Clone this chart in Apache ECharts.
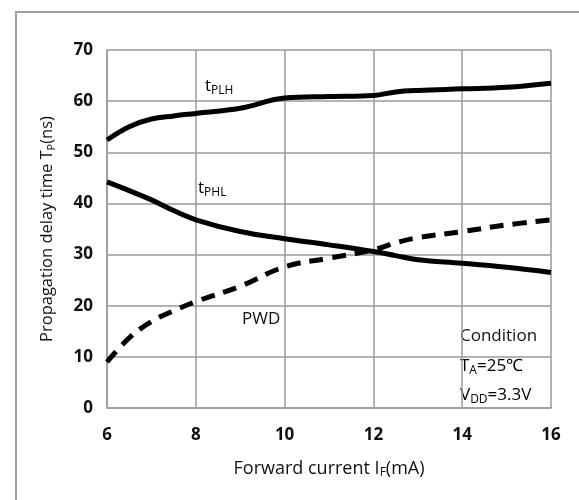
<!DOCTYPE html>
<html>
<head>
<meta charset="utf-8">
<script src="https://cdn.jsdelivr.net/npm/echarts@6/dist/echarts.min.js"></script>
<style>
  html, body { margin: 0; padding: 0; background: #fff; }
  #main { width: 579px; height: 500px; }
</style>
</head>
<body>
<div id="main"></div>
<script>
// forward current (mA)
var current = [6, 6.5, 7, 7.5, 8, 9, 10, 11, 12, 12.5, 13, 14, 15, 16];
// propagation delay (ns)
var tPLH = [52.4, 55.0, 56.5, 57.1, 57.6, 58.6, 60.6, 60.9, 61.1, 61.8, 62.1, 62.4, 62.7, 63.5];
var tPHL = [44.2, 42.5, 40.7, 38.6, 36.8, 34.5, 33.1, 31.9, 30.6, 29.8, 29.0, 28.3, 27.5, 26.5];
var pwd = [9.0, 13.7, 16.9, 19.0, 20.8, 23.8, 27.6, 29.3, 30.9, 32.3, 33.3, 34.5, 35.8, 36.8];

function pairs(ys) {
  return current.map(function (x, i) { return [x, ys[i]]; });
}

var chart = echarts.init(document.getElementById('main'));

var font = '"Open Sans", "Liberation Sans", sans-serif';
var gridColor = '#9a9a9a';

// rich styles for text with subscripts
function subRich(size) {
  return {
    m: { fontSize: size, fontFamily: font, color: '#111' },
    s: { fontSize: Math.round(size * 0.68), fontFamily: font, color: '#111', padding: [8, 0, 0, 0] }
  };
}

function lineSeries(name, ys, dashed) {
  return {
    name: name,
    type: 'line',
    smooth: 0.4,
    symbol: 'none',
    data: pairs(ys),
    lineStyle: {
      color: '#000',
      width: 5,
      type: dashed ? [14, 9] : 'solid',
      cap: 'butt'
    }
  };
}

var option = {
  backgroundColor: '#fff',
  animation: false,
  grid: { left: 107, right: 28, top: 50, bottom: 92 },
  xAxis: {
    type: 'value',
    min: 6,
    max: 16,
    interval: 2,
    name: '{m|Forward current I}{s|F}{m|(mA)}',
    nameLocation: 'middle',
    nameGap: 51,
    nameTextStyle: { rich: subRich(18) },
    axisLine: { lineStyle: { color: gridColor, width: 1.5 } },
    axisTick: { show: false },
    axisLabel: { fontSize: 17, fontWeight: 700, color: '#111', fontFamily: font, margin: 19 },
    splitLine: { lineStyle: { color: gridColor, width: 1.5 } }
  },
  yAxis: {
    type: 'value',
    min: 0,
    max: 70,
    interval: 10,
    name: '{m|Propagation delay time T}{s|P}{m|(ns)}',
    nameLocation: 'middle',
    nameGap: 50,
    nameRotate: 90,
    nameTextStyle: { rich: subRich(16.5) },
    axisLine: { show: true, lineStyle: { color: gridColor, width: 1.5 } },
    axisTick: { show: false },
    axisLabel: { fontSize: 17, fontWeight: 700, color: '#111', fontFamily: font, margin: 14 },
    splitLine: { lineStyle: { color: gridColor, width: 1.5 } }
  },
  series: [
    lineSeries('tPLH', tPLH, false),
    lineSeries('tPHL', tPHL, false),
    lineSeries('PWD', pwd, true)
  ],
  graphic: [
    {
      type: 'rect',
      shape: { x: 16, y: 12, width: 600, height: 520 },
      style: { fill: 'none', stroke: '#a0a0a0', lineWidth: 2 },
      silent: true
    },
    {
      type: 'text', left: 205, top: 78,
      style: { text: '{m|t}{s|PLH}', rich: subRich(17) }
    },
    {
      type: 'text', left: 198, top: 180,
      style: { text: '{m|t}{s|PHL}', rich: subRich(17) }
    },
    {
      type: 'text', left: 242, top: 311,
      style: { text: 'PWD', fontSize: 17, fontFamily: font, fill: '#111' }
    },
    {
      type: 'text', left: 460, top: 328,
      style: { text: 'Condition', fontSize: 17, fontFamily: font, fill: '#111' }
    },
    {
      type: 'text', left: 460, top: 358,
      style: { text: '{m|T}{s|A}{m|=25℃}', rich: subRich(17) }
    },
    {
      type: 'text', left: 460, top: 387,
      style: { text: '{m|V}{s|DD}{m|=3.3V}', rich: subRich(17) }
    }
  ]
};

chart.setOption(option);
</script>
</body>
</html>
